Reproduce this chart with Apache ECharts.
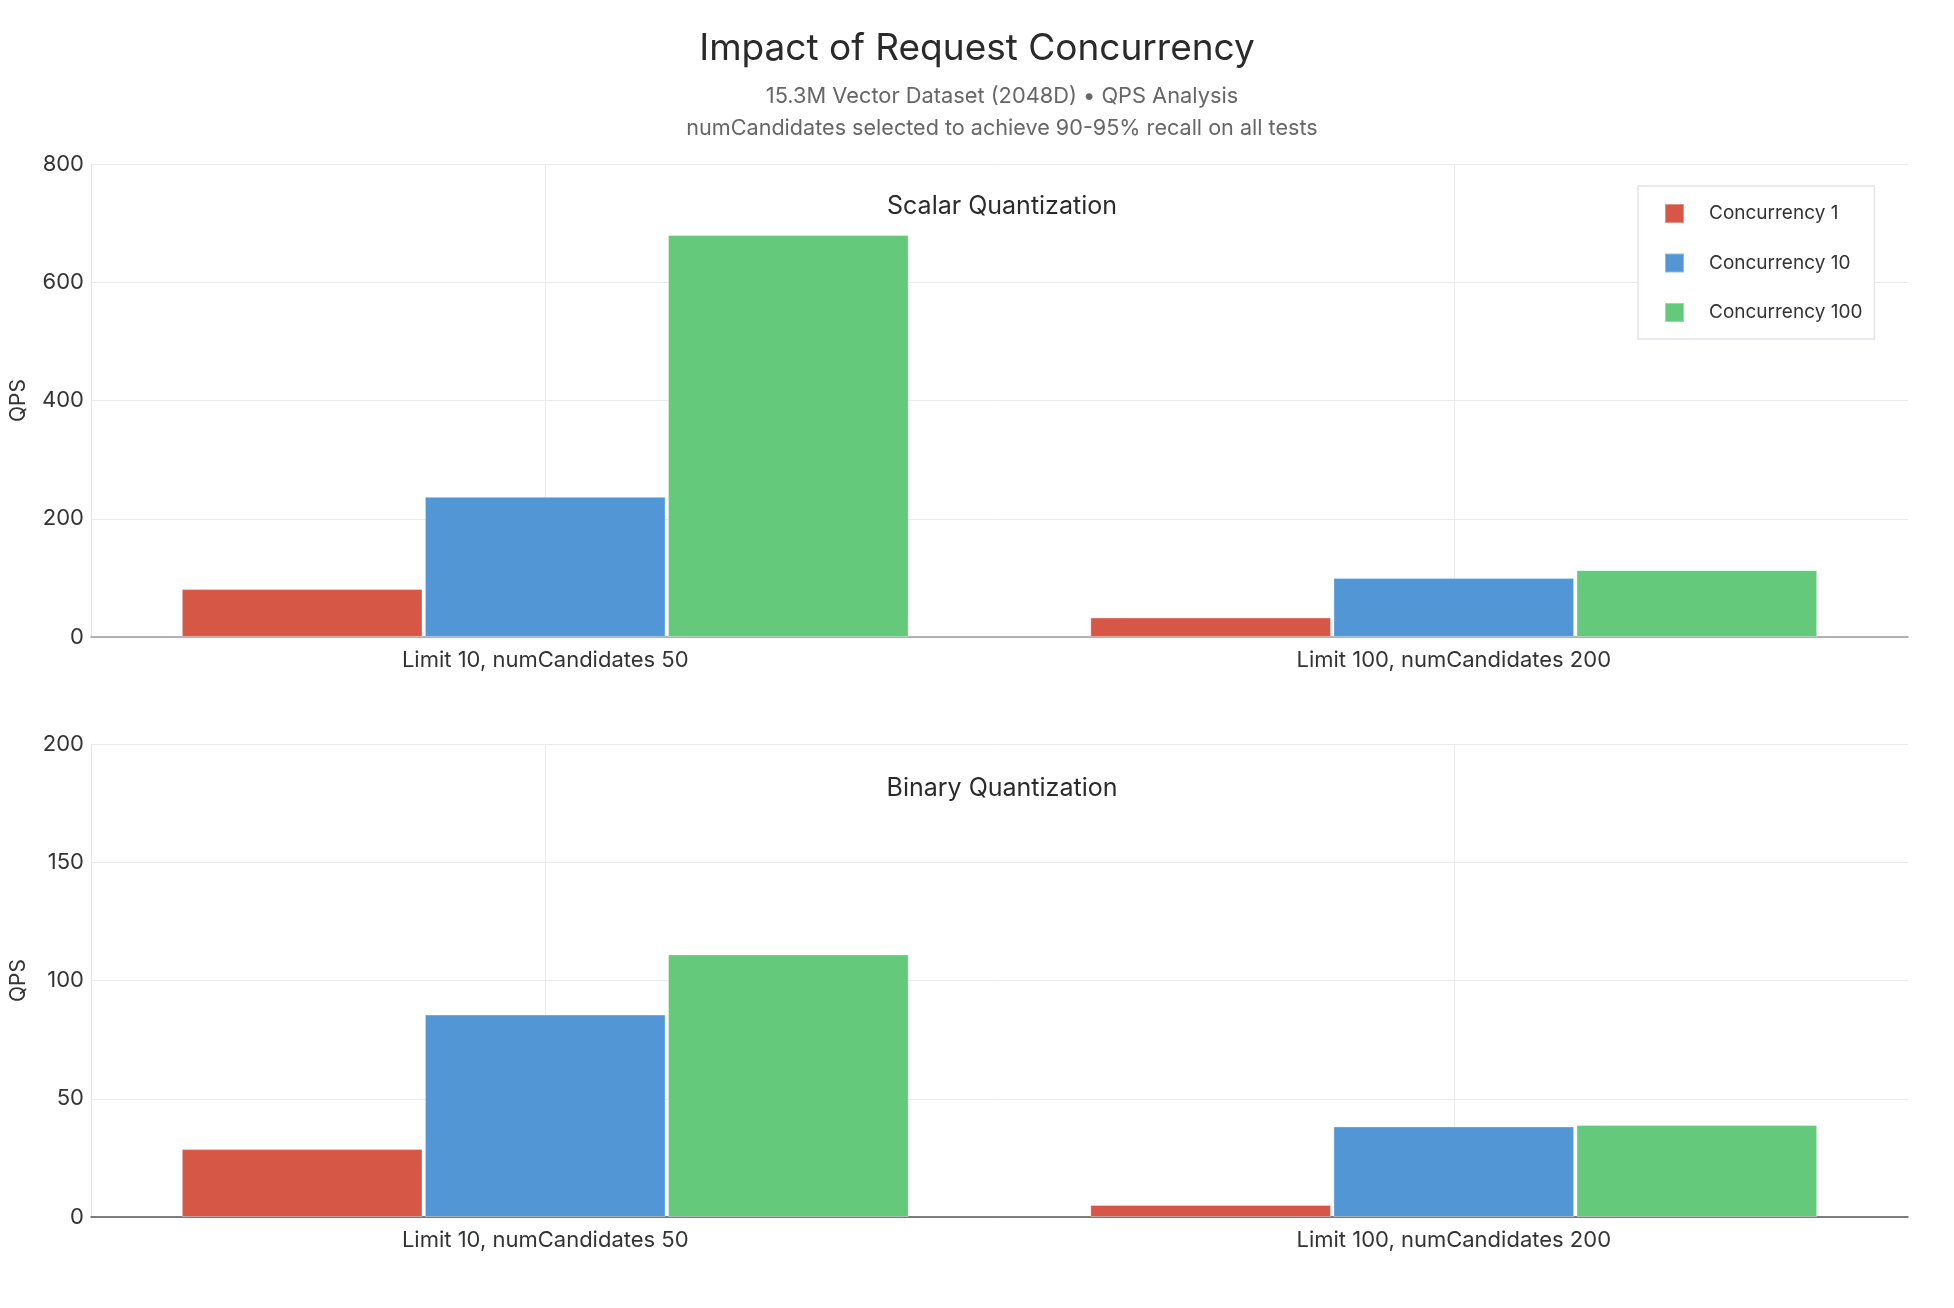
<!DOCTYPE html>
<html>
<head>
<meta charset="utf-8">
<script src="https://cdn.jsdelivr.net/npm/echarts@6/dist/echarts.min.js"></script>
<style>
html,body{margin:0;padding:0;background:#fff;}
#chart{width:1954px;height:1308px;}
</style>
</head>
<body>
<div id="chart"></div>
<script>
const categories = ['Limit 10, numCandidates 50', 'Limit 100, numCandidates 200'];
const seriesNames = ['Concurrency 1', 'Concurrency 10', 'Concurrency 100'];
const scalarC1 = [81, 33];
const scalarC10 = [237, 100];
const scalarC100 = [680, 113];
const binaryC1 = [28.7, 5.1];
const binaryC10 = [85.6, 38.3];
const binaryC100 = [111, 38.9];
const colors = ['#d65745', '#5296d5', '#64c97a'];

const FONT = 'Inter';
const chart = echarts.init(document.getElementById('chart'));

function xAxisDef(gi) {
  return {
    type: 'category', gridIndex: gi, data: categories,
    axisLine: { show: true, lineStyle: { color: gi === 0 ? '#9a9a9a' : '#555', width: 1.5 } },
    axisTick: { show: false, alignWithLabel: true },
    axisLabel: { fontFamily: FONT, fontSize: 22, color: '#333', margin: 12 },
    splitLine: { show: true, alignWithLabel: true, lineStyle: { color: '#ebebeb', width: 1 } }
  };
}
function yAxisDef(gi, max, interval) {
  return {
    type: 'value', gridIndex: gi, min: 0, max: max, interval: interval,
    name: 'QPS', nameLocation: 'middle', nameGap: 62,
    nameTextStyle: { fontFamily: FONT, fontSize: 21, color: '#333' },
    axisLine: { show: true, lineStyle: { color: '#e6e6e6', width: 1 } },
    axisTick: { show: false },
    axisLabel: { fontFamily: FONT, fontSize: 22, color: '#333', margin: 7 },
    splitLine: { show: true, lineStyle: { color: '#ebebeb', width: 1 } }
  };
}
function bar(name, data, gi, ci) {
  return {
    type: 'bar', name: name, data: data, xAxisIndex: gi, yAxisIndex: gi,
    barCategoryGap: '20%', barGap: '1%',
    itemStyle: { color: colors[ci], borderColor: 'rgba(255,255,255,0.35)', borderWidth: 1 },
    emphasis: { disabled: true }
  };
}

const option = {
  backgroundColor: '#fff',
  animation: false,
  title: [
    { text: 'Impact of Request Concurrency', left: 'center', top: 25,
      textStyle: { fontFamily: FONT, fontSize: 37, fontWeight: 'normal', color: '#2a2a2a', lineHeight: 38 } },
    { text: '15.3M Vector Dataset (2048D) • QPS Analysis', left: 997, textAlign: 'center', top: 80,
      textStyle: { fontFamily: FONT, fontSize: 21.8, fontWeight: 'normal', color: '#666', lineHeight: 22 } },
    { text: 'numCandidates selected to achieve 90-95% recall on all tests', left: 997, textAlign: 'center', top: 112,
      textStyle: { fontFamily: FONT, fontSize: 21.6, fontWeight: 'normal', color: '#666', lineHeight: 22 } },
    { text: 'Scalar Quantization', left: 997, textAlign: 'center', top: 189,
      textStyle: { fontFamily: FONT, fontSize: 25, fontWeight: 'normal', color: '#2a2a2a', lineHeight: 25 } },
    { text: 'Binary Quantization', left: 997, textAlign: 'center', top: 771,
      textStyle: { fontFamily: FONT, fontSize: 25, fontWeight: 'normal', color: '#2a2a2a', lineHeight: 25 } }
  ],
  legend: {
    data: seriesNames, orient: 'vertical', left: 1638, top: 186,
    backgroundColor: '#fff', borderColor: '#e2e4ea', borderWidth: 1.5,
    padding: [17, 12, 16, 26], itemGap: 28.5, itemWidth: 19, itemHeight: 19, icon: 'rect',
    textStyle: { fontFamily: FONT, fontSize: 19, color: '#333', lineHeight: 19, padding: [0, 0, 0, 20] }
  },
  grid: [
    { left: 89, top: 164, width: 1819, height: 473, containLabel: false },
    { left: 89, top: 744, width: 1819, height: 473, containLabel: false }
  ],
  xAxis: [xAxisDef(0), xAxisDef(1)],
  yAxis: [yAxisDef(0, 800, 200), yAxisDef(1, 200, 50)],
  series: [
    bar(seriesNames[0], scalarC1, 0, 0),
    bar(seriesNames[1], scalarC10, 0, 1),
    bar(seriesNames[2], scalarC100, 0, 2),
    bar(seriesNames[0], binaryC1, 1, 0),
    bar(seriesNames[1], binaryC10, 1, 1),
    bar(seriesNames[2], binaryC100, 1, 2)
  ]
};
chart.setOption(option);
</script>
</body>
</html>
